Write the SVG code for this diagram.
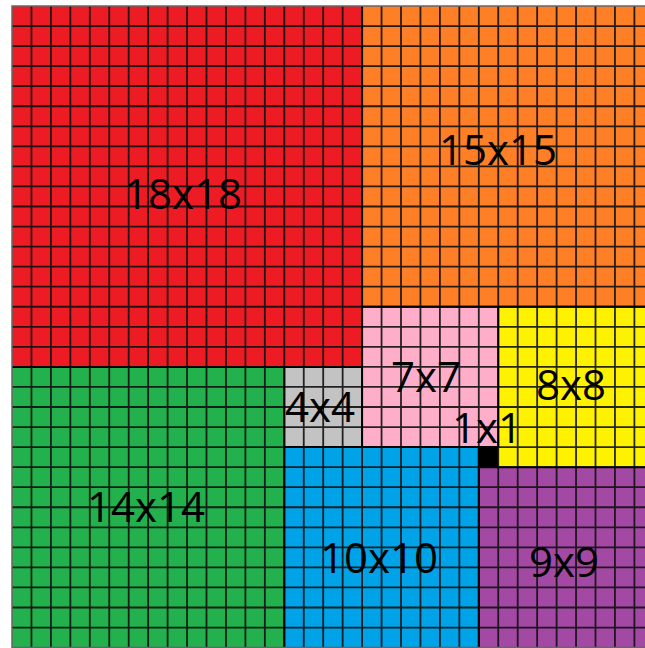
<svg xmlns="http://www.w3.org/2000/svg" width="645" height="648" viewBox="0 0 645 648">
<defs>
<style>
.sq{stroke:none}
.grid{fill:none;stroke:#111;stroke-width:1.8;stroke-opacity:0.9;vector-effect:non-scaling-stroke}
.edge{fill:none;stroke:#000;stroke-width:2;vector-effect:non-scaling-stroke}
.lbl{font-family:"Open Sans","Noto Sans","DejaVu Sans",sans-serif;font-size:42px;fill:#000;text-anchor:middle}
</style>
</defs>
<rect x="0" y="0" width="645" height="648" fill="#fff"/>
<g transform="translate(12,6) scale(19.45,20.05)">
  <g id="sq18"><rect class="sq" x="0" y="0" width="18" height="18" fill="#ED1C24"/></g>
  <g id="sq15"><rect class="sq" x="18" y="0" width="15" height="15" fill="#FF7F27"/></g>
  <g id="sq14"><rect class="sq" x="0" y="18" width="14" height="14" fill="#22B14C"/></g>
  <g id="sq4"><rect class="sq" x="14" y="18" width="4" height="4" fill="#C3C3C3"/></g>
  <g id="sq7"><rect class="sq" x="18" y="15" width="7" height="7" fill="#FFAEC9"/></g>
  <g id="sq8"><rect class="sq" x="25" y="15" width="8" height="8" fill="#FFF200"/></g>
  <g id="sq1"><rect class="sq" x="24" y="22" width="1" height="1" fill="#000"/></g>
  <g id="sq10"><rect class="sq" x="14" y="22" width="10" height="10" fill="#00A2E8"/></g>
  <g id="sq9"><rect class="sq" x="24" y="23" width="9" height="9" fill="#A349A4"/></g>
  <path class="grid" d="M1 0V32M2 0V32M3 0V32M4 0V32M5 0V32M6 0V32M7 0V32M8 0V32M9 0V32M10 0V32M11 0V32M12 0V32M13 0V32M14 0V32M15 0V32M16 0V32M17 0V32M18 0V32M19 0V32M20 0V32M21 0V32M22 0V32M23 0V32M24 0V32M25 0V32M26 0V32M27 0V32M28 0V32M29 0V32M30 0V32M31 0V32M32 0V32
  M0 1H33M0 2H33M0 3H33M0 4H33M0 5H33M0 6H33M0 7H33M0 8H33M0 9H33M0 10H33M0 11H33M0 12H33M0 13H33M0 14H33M0 15H33M0 16H33M0 17H33M0 18H33M0 19H33M0 20H33M0 21H33M0 22H33M0 23H33M0 24H33M0 25H33M0 26H33M0 27H33M0 28H33M0 29H33M0 30H33M0 31H33"/>
  <path class="edge" d="M18 0V22M0 18H18M14 18V32M18 15H33M25 15V22M14 22H25M24 22V32M24 23H33"/>
  <rect x="0" y="0" width="33" height="32" fill="none" stroke="#666" stroke-width="1.5" vector-effect="non-scaling-stroke"/>
</g>
<g id="labels">
  <text class="lbl" x="183" y="209">18x18</text>
  <text class="lbl" x="498" y="165">15x15</text>
  <text class="lbl" x="146" y="522">14x14</text>
  <text class="lbl" x="320" y="422">4x4</text>
  <text class="lbl" x="426" y="392">7x7</text>
  <text class="lbl" x="571" y="400">8x8</text>
  <text class="lbl" x="487" y="443">1x1</text>
  <text class="lbl" x="379" y="573">10x10</text>
  <text class="lbl" x="564" y="577">9x9</text>
</g>
</svg>
